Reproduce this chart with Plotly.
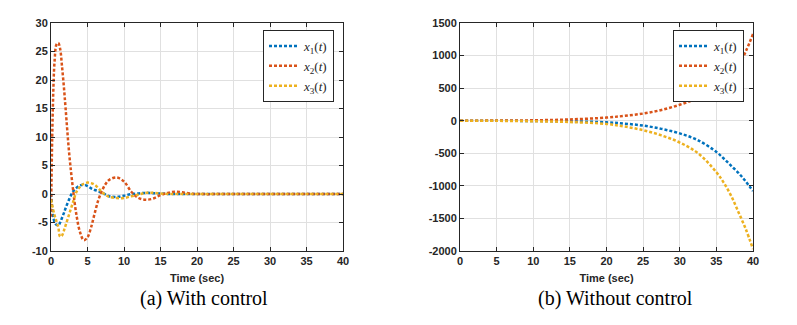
import plotly.graph_objects as go

# (a) with control
t_a = [0, 0.25, 0.5, 0.75, 1, 1.25, 1.5, 1.75, 2, 2.5, 3, 3.5, 4, 4.5, 5, 5.5, 6, 6.5,
       7, 7.5, 8, 9, 10, 11, 12, 13, 14, 15, 16, 17, 18, 19, 20, 25, 30, 35, 40]
x1_a = [0, -3.5, -5, -5.4, -5.5, -5, -4.2, -3.4, -2.5, -0.9, 0.4, 1.1, 1.5, 1.6, 1.4, 1.0,
        0.7, 0.5, 0.2, -0.1, -0.4, -0.5, -0.3, 0, 0.1, 0.2, 0.15, 0.1, 0, 0, 0, 0, 0, 0, 0, 0, 0]
x2_a = [-4, 15, 23.5, 26.2, 26.5, 25.5, 22.5, 19, 15, 7, 1, -3.8, -6.8, -8.1, -7.6, -5.8,
        -3.3, -1, 0.6, 1.8, 2.5, 2.9, 2.2, 0.4, -0.7, -1.0, -0.8, -0.2, 0.2, 0.4, 0.3, 0.1,
        0, 0, 0, 0, 0]
x3_a = [-1, -2.5, -3.8, -4.8, -5.8, -7.5, -7.3, -6.5, -5.5, -3.5, -1.5, 0.4, 1.3, 1.8, 2.0,
        1.9, 1.6, 1.0, 0.3, -0.2, -0.5, -0.7, -0.7, -0.4, -0.1, 0.2, 0.2, 0.1, 0, 0, 0, 0,
        0, 0, 0, 0, 0]

# (b) without control
t_b = [0, 5, 10, 15, 20, 22.5, 25, 27.5, 30, 32.5, 35, 36, 37, 38, 39, 40]
x1_b = [0, -1, -4, -10, -25, -45, -75, -125, -195, -300, -480, -580, -690, -800, -930, -1080]
x2_b = [0.5, 2, 6, 20, 48, 75, 110, 165, 245, 350, 510, 590, 690, 840, 1060, 1330]
x3_b = [0, -2, -8, -20, -50, -90, -145, -225, -335, -500, -790, -950, -1150, -1400, -1660, -1970]

# tick labels
x_ticks = [0, 5, 10, 15, 20, 25, 30, 35, 40]
y_ticks_a = [-10, -5, 0, 5, 10, 15, 20, 25, 30]
y_ticks_b = [-2000, -1500, -1000, -500, 0, 500, 1000, 1500]

names = ["<i>x</i><sub>1</sub>(<i>t</i>)", "<i>x</i><sub>2</sub>(<i>t</i>)",
         "<i>x</i><sub>3</sub>(<i>t</i>)"]
colors = ["#0072BD", "#D95319", "#EDB120"]

# page body has an 8px margin, so the figure is 8px smaller than the window
W, H = 789, 317


def lbl(vals):
    return ["<b>%d</b>" % v for v in vals]


fig = go.Figure()
for ys, nm, c in zip([x1_a, x2_a, x3_a], names, colors):
    fig.add_trace(go.Scatter(x=t_a, y=ys, name=nm, mode="lines",
                             line=dict(color=c, width=2.5, dash="3px,2px", shape="spline"),
                             xaxis="x", yaxis="y", legend="legend"))
for ys, nm, c in zip([x1_b, x2_b, x3_b], names, colors):
    fig.add_trace(go.Scatter(x=t_b, y=ys, name=nm, mode="lines",
                             line=dict(color=c, width=2.5, dash="3px,2px", shape="spline"),
                             xaxis="x2", yaxis="y2", legend="legend2"))

tickf = dict(family="Liberation Sans", size=11, color="#262626")
ax = dict(showline=True, linecolor="#262626", linewidth=1, mirror="ticks",
          ticks="inside", ticklen=4, tickcolor="#262626", showgrid=True,
          gridcolor="#e0e0e0", zeroline=False, tickfont=tickf, automargin=False)
xtitle = dict(text="<b>Time (sec)</b>", standoff=8,
              font=dict(family="Liberation Sans", size=11, color="#262626"))
ydom = [74 / H, 302 / H]
legf = dict(family="Liberation Serif", size=13, color="#262626")

fig.update_layout(
    width=W, height=H, margin=dict(l=0, r=0, t=0, b=0),
    plot_bgcolor="white", paper_bgcolor="white",
    xaxis=dict(ax, domain=[43 / W, 335 / W], range=[0, 40],
               tickvals=x_ticks, ticktext=lbl(x_ticks), title=xtitle),
    yaxis=dict(ax, domain=ydom, range=[-10, 30], anchor="x",
               tickvals=y_ticks_a, ticktext=lbl(y_ticks_a)),
    xaxis2=dict(ax, domain=[452 / W, 745 / W], range=[0, 40], anchor="y2",
                tickvals=x_ticks, ticktext=lbl(x_ticks), title=xtitle),
    yaxis2=dict(ax, domain=ydom, range=[-2000, 1500], anchor="x2",
                tickvals=y_ticks_b, ticktext=lbl(y_ticks_b)),
    legend=dict(x=326 / W, y=(H - 22) / H, xanchor="right", yanchor="top",
                bgcolor="white", bordercolor="#262626", borderwidth=1,
                font=legf, tracegroupgap=0, itemwidth=30),
    legend2=dict(x=736 / W, y=(H - 22) / H, xanchor="right", yanchor="top",
                 bgcolor="white", bordercolor="#262626", borderwidth=1,
                 font=legf, tracegroupgap=0, itemwidth=30),
    annotations=[
        dict(text="(a) With control", x=196 / W, y=27 / H, xref="paper", yref="paper",
             showarrow=False, xanchor="center", yanchor="middle",
             font=dict(family="Liberation Serif", size=20, color="black")),
        dict(text="(b) Without control", x=607 / W, y=27 / H, xref="paper", yref="paper",
             showarrow=False, xanchor="center", yanchor="middle",
             font=dict(family="Liberation Serif", size=20, color="black")),
    ],
)

fig.write_html("out.html")
